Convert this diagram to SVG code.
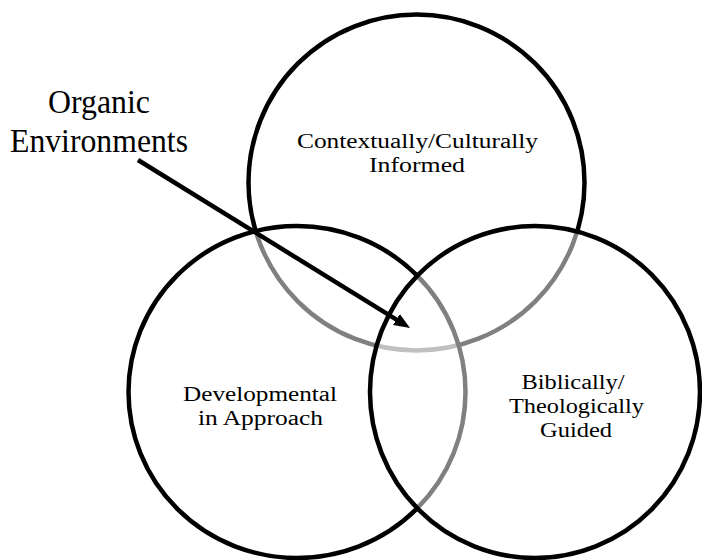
<svg xmlns="http://www.w3.org/2000/svg" width="702" height="560" viewBox="0 0 702 560">
  <style>
    .ring { fill: #ffffff; fill-opacity: 0.5; stroke: #000000; stroke-width: 4.5; }
    .label { font-family: "Liberation Serif", "Times New Roman", serif; font-size: 21.6px; fill: #000000; text-anchor: middle; }
    .callout { font-family: "Liberation Serif", "Times New Roman", serif; font-size: 33px; fill: #000000; text-anchor: middle; }
    .arrow { stroke: #000000; stroke-width: 4.5; fill: none; }
  </style>
  <defs>
    <marker id="arrowhead" markerUnits="userSpaceOnUse" markerWidth="18" markerHeight="14" refX="2" refY="6.5" orient="auto">
      <path d="M0,0 L16,6.5 L0,13 z" fill="#000000"/>
    </marker>
  </defs>

  <rect x="0" y="0" width="702" height="560" fill="#ffffff"/>

  <!-- Venn sets: drawn in order, each half-transparent white fill softens the strokes beneath it -->
  <g id="contextually-culturally-informed">
    <ellipse class="ring" cx="416.5" cy="182.5" rx="168" ry="168"/>
    <text class="label" x="417.5" y="148" textLength="241" lengthAdjust="spacingAndGlyphs">Contextually/Culturally</text>
    <text class="label" x="417" y="172" textLength="96" lengthAdjust="spacingAndGlyphs">Informed</text>
  </g>

  <g id="developmental-in-approach">
    <ellipse class="ring" cx="297" cy="392" rx="168.5" ry="166"/>
    <text class="label" x="260" y="401" textLength="154" lengthAdjust="spacingAndGlyphs">Developmental</text>
    <text class="label" x="260.5" y="425" textLength="125" lengthAdjust="spacingAndGlyphs">in Approach</text>
  </g>

  <g id="biblically-theologically-guided">
    <ellipse class="ring" cx="535" cy="392" rx="165" ry="166"/>
    <text class="label" x="573" y="389" textLength="103" lengthAdjust="spacingAndGlyphs">Biblically/</text>
    <text class="label" x="576.5" y="413" textLength="135" lengthAdjust="spacingAndGlyphs">Theologically</text>
    <text class="label" x="576" y="437" textLength="72" lengthAdjust="spacingAndGlyphs">Guided</text>
  </g>

  <!-- Callout label pointing into the shared centre -->
  <g id="organic-environments">
    <text class="callout" x="99" y="113" textLength="102" lengthAdjust="spacingAndGlyphs">Organic</text>
    <text class="callout" x="99" y="152" textLength="178" lengthAdjust="spacingAndGlyphs">Environments</text>
  </g>

  <g id="connectors">
    <line class="arrow" x1="138" y1="160" x2="398.1" y2="320.6" marker-end="url(#arrowhead)"/>
  </g>
</svg>
